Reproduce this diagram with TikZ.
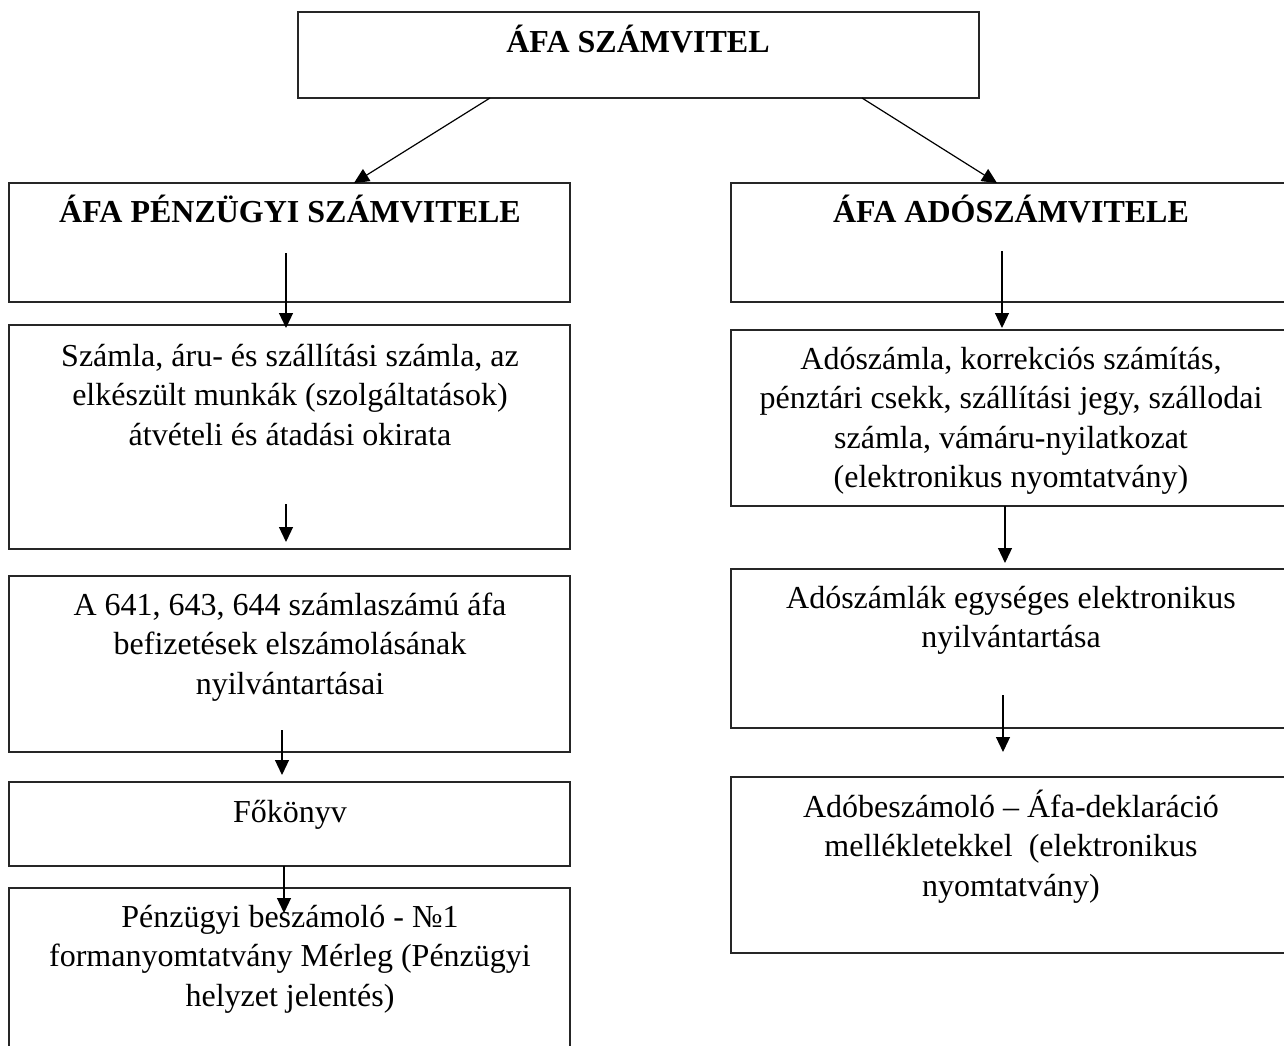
\documentclass[tikz,border=0pt]{standalone}
\usepackage{fontspec}
\setmainfont{Liberation Serif}
\usetikzlibrary{arrows.meta}
\newcommand\myfirststrut{\rule{0pt}{30pt}}
\begin{document}
\begin{tikzpicture}[x=1pt,y=-1pt,
  box/.style={draw=black!85, line width=1.2pt, inner sep=0pt, outer sep=0pt, anchor=north west},
  txt/.style={anchor=north, inner sep=0pt, align=center, font=\fontsize{32}{39.5}\selectfont},
  ttl/.style={anchor=base, inner sep=0pt, font=\fontsize{32}{39.5}\selectfont\bfseries},
  arr/.style={line width=1.2pt, -{Triangle[length=15pt,width=14pt]}}]
\useasboundingbox (0,0) rectangle (1284,1045);
% boxes
\node[box, minimum width=681pt, minimum height=86pt] (top) at (298,12) {};
\node[box, minimum width=561pt, minimum height=119pt] (l1) at (9,183) {};
\node[box, minimum width=561pt, minimum height=224pt] (l2) at (9,325) {};
\node[box, minimum width=561pt, minimum height=176pt] (l3) at (9,576) {};
\node[box, minimum width=561pt, minimum height=84pt] (l4) at (9,782) {};
\node[box, minimum width=561pt, minimum height=170pt] (l5) at (9,888) {};
\node[box, minimum width=560pt, minimum height=119pt] (r1) at (731,183) {};
\node[box, minimum width=560pt, minimum height=176pt] (r2) at (731,330) {};
\node[box, minimum width=560pt, minimum height=159pt] (r3) at (731,569) {};
\node[box, minimum width=560pt, minimum height=176pt] (r4) at (731,777) {};
% texts
\node[ttl] (ttop) at (638,52) {ÁFA SZÁMVITEL};
\node[ttl] (tl1) at (290,222) {ÁFA PÉNZÜGYI SZÁMVITELE};
\node[ttl] (tr1) at (1011,222) {ÁFA ADÓSZÁMVITELE};
\node[txt] (tl2) at (290,336) {\myfirststrut Számla, áru- és szállítási számla, az\\elkészült munkák (szolgáltatások)\\átvételi és átadási okirata};
\node[txt] (tl3) at (290,585) {\myfirststrut A 641, 643, 644 számlaszámú áfa\\befizetések elszámolásának\\nyilvántartásai};
\node[txt] (tl4) at (290,792) {\myfirststrut Főkönyv};
\node[txt] (tl5) at (290,897) {\myfirststrut Pénzügyi beszámoló - №1\\formanyomtatvány Mérleg (Pénzügyi\\helyzet jelentés)};
\node[txt] (tr2) at (1011,339) {\myfirststrut Adószámla, korrekciós számítás,\\pénztári csekk, szállítási jegy, szállodai\\számla, vámáru-nyilatkozat\\(elektronikus nyomtatvány)};
\node[txt] (tr3) at (1011,578) {\myfirststrut Adószámlák egységes elektronikus\\nyilvántartása};
\node[txt] (tr4) at (1011,787) {\myfirststrut Adóbeszámoló – Áfa-deklaráció\\mellékletekkel\ \ (elektronikus\\nyomtatvány)};
% connector end points
\coordinate (a1s) at (490,98);  \coordinate (a1e) at (354,183);
\coordinate (a2s) at (862,98);  \coordinate (a2e) at (997,183);
\coordinate (a3s) at (286,253); \coordinate (a3e) at (286,328);
\coordinate (a4s) at (286,504); \coordinate (a4e) at (286,542);
\coordinate (a5s) at (282,730); \coordinate (a5e) at (282,775);
\coordinate (a6s) at (284,866); \coordinate (a6e) at (284,913);
\coordinate (a7s) at (1002,251); \coordinate (a7e) at (1002,328);
\coordinate (a8s) at (1005,506); \coordinate (a8e) at (1005,563);
\coordinate (a9s) at (1003,695); \coordinate (a9e) at (1003,752);
\draw[arr] (a1s) -- (a1e);
\draw[arr] (a2s) -- (a2e);
\draw[arr] (a3s) -- (a3e);
\draw[arr] (a4s) -- (a4e);
\draw[arr] (a5s) -- (a5e);
\draw[arr] (a6s) -- (a6e);
\draw[arr] (a7s) -- (a7e);
\draw[arr] (a8s) -- (a8e);
\draw[arr] (a9s) -- (a9e);
\end{tikzpicture}
\end{document}
